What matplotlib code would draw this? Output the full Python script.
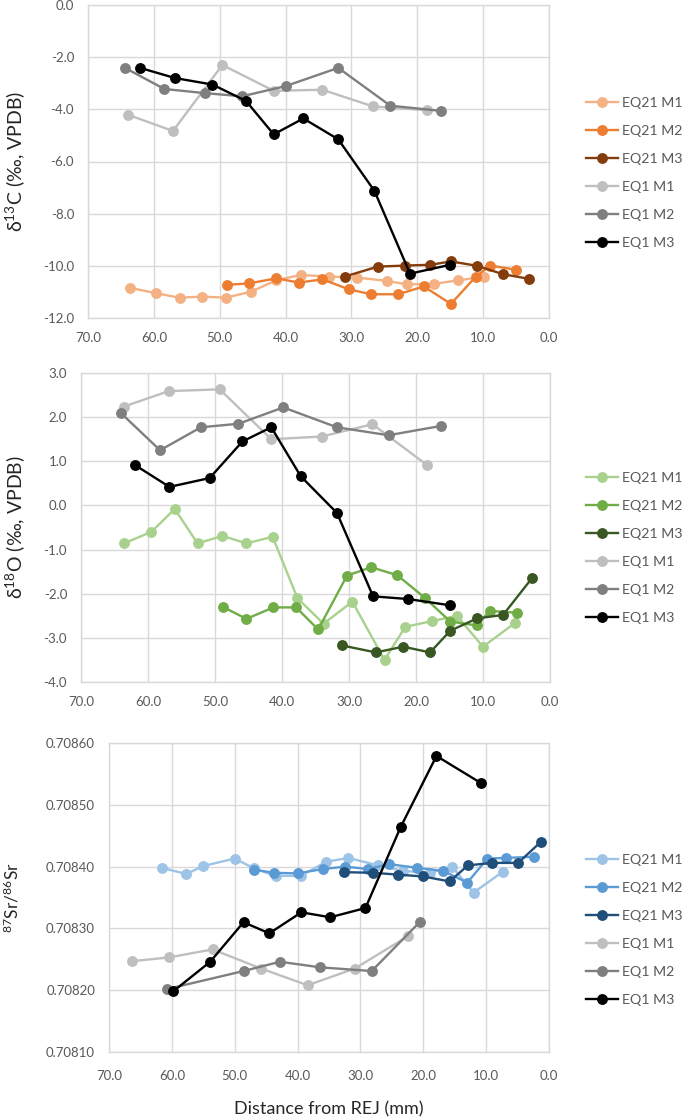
import numpy as np
import matplotlib
matplotlib.use('Agg')
import matplotlib.pyplot as plt
from matplotlib.ticker import MultipleLocator, FormatStrFormatter

plt.rcParams['font.family'] = ['Lato', 'DejaVu Sans']
plt.rcParams['mathtext.fontset'] = 'custom'
plt.rcParams['mathtext.rm'] = 'Lato'
plt.rcParams['mathtext.it'] = 'Lato:italic'

# series names
names = ['EQ21 M1', 'EQ21 M2', 'EQ21 M3', 'EQ1 M1', 'EQ1 M2', 'EQ1 M3']

# ---- d13C ----
c_eq21m1_x = [63.6, 59.7, 56.1, 52.7, 49.1, 45.3, 41.4, 37.7, 33.4, 29.1, 24.6, 21.5, 17.5, 13.8, 9.9]
c_eq21m1_y = [-10.84, -11.05, -11.22, -11.18, -11.22, -11.00, -10.55, -10.35, -10.41, -10.45, -10.58, -10.71, -10.69, -10.56, -10.41]
c_eq21m2_x = [48.9, 45.5, 41.4, 38.0, 34.4, 30.4, 27.0, 22.9, 19.0, 14.9, 11.1, 8.9, 5.0]
c_eq21m2_y = [-10.73, -10.67, -10.48, -10.64, -10.52, -10.90, -11.09, -11.09, -10.79, -11.46, -10.41, -9.99, -10.15]
c_eq21m3_x = [31.0, 26.0, 21.9, 18.0, 14.9, 10.9, 7.0, 3.0]
c_eq21m3_y = [-10.41, -10.03, -9.99, -9.96, -9.83, -10.00, -10.32, -10.50]
c_eq1m1_x = [63.9, 57.1, 49.6, 41.8, 34.4, 26.7, 18.6]
c_eq1m1_y = [-4.21, -4.83, -2.30, -3.29, -3.25, -3.89, -4.03]
c_eq1m2_x = [64.4, 58.4, 52.2, 46.6, 40.0, 32.0, 24.1, 16.4]
c_eq1m2_y = [-2.41, -3.22, -3.38, -3.50, -3.11, -2.41, -3.86, -4.06]
c_eq1m3_x = [62.1, 56.8, 51.1, 46.0, 41.8, 37.3, 32.0, 26.5, 21.1, 15.0]
c_eq1m3_y = [-2.41, -2.80, -3.05, -3.68, -4.96, -4.35, -5.15, -7.13, -10.30, -9.96]

# ---- d18O ----
o_eq21m1_x = [63.6, 59.5, 56.0, 52.6, 48.9, 45.3, 41.4, 37.7, 33.8, 29.5, 24.7, 21.6, 17.6, 13.9, 10.0, 5.2]
o_eq21m1_y = [-0.86, -0.60, -0.08, -0.86, -0.69, -0.86, -0.71, -2.10, -2.68, -2.18, -3.50, -2.75, -2.62, -2.50, -3.20, -2.66]
o_eq21m2_x = [48.8, 45.3, 41.3, 37.9, 34.6, 30.3, 26.7, 22.8, 18.7, 14.9, 10.9, 9.0, 5.0]
o_eq21m2_y = [-2.30, -2.57, -2.31, -2.31, -2.81, -1.59, -1.40, -1.58, -2.09, -2.63, -2.72, -2.39, -2.43]
o_eq21m3_x = [31.1, 26.0, 21.9, 17.9, 14.9, 10.9, 7.0, 2.7]
o_eq21m3_y = [-3.17, -3.33, -3.20, -3.33, -2.84, -2.56, -2.48, -1.65]
o_eq1m1_x = [63.6, 56.9, 49.3, 41.6, 34.1, 26.5, 18.4]
o_eq1m1_y = [2.24, 2.59, 2.63, 1.50, 1.56, 1.84, 0.92]
o_eq1m2_x = [64.1, 58.2, 52.1, 46.5, 39.8, 31.8, 24.1, 16.3]
o_eq1m2_y = [2.10, 1.25, 1.77, 1.85, 2.22, 1.77, 1.59, 1.80]
o_eq1m3_x = [62.0, 56.8, 50.8, 45.9, 41.6, 37.2, 31.8, 26.4, 21.2, 15.0]
o_eq1m3_y = [0.92, 0.42, 0.62, 1.45, 1.77, 0.66, -0.17, -2.06, -2.12, -2.26]

# ---- 87Sr/86Sr ----
s_eq21m1_x = [61.6, 57.7, 55.0, 50.0, 46.9, 43.5, 39.5, 35.4, 31.9, 27.2, 23.2, 19.0, 15.4, 12.0, 7.3]
s_eq21m1_y = [0.708398, 0.708388, 0.708401, 0.708413, 0.708397, 0.708385, 0.708385, 0.708408, 0.708414, 0.708402, 0.708393, 0.708390, 0.708400, 0.708358, 0.708392]
s_eq21m2_x = [46.9, 43.8, 40.0, 36.0, 32.4, 28.8, 25.4, 21.0, 16.8, 13.0, 9.8, 6.9, 2.4]
s_eq21m2_y = [0.708395, 0.708390, 0.708389, 0.708396, 0.708400, 0.708396, 0.708404, 0.708398, 0.708393, 0.708374, 0.708413, 0.708414, 0.708416]
s_eq21m3_x = [32.6, 28.0, 24.0, 20.0, 15.8, 12.9, 9.0, 4.9, 1.3]
s_eq21m3_y = [0.708391, 0.708390, 0.708387, 0.708384, 0.708376, 0.708402, 0.708406, 0.708406, 0.708440]
s_eq1m1_x = [66.3, 60.5, 53.5, 45.8, 38.4, 30.9, 22.5]
s_eq1m1_y = [0.708247, 0.708253, 0.708266, 0.708235, 0.708208, 0.708235, 0.708287]
s_eq1m2_x = [60.7, 48.6, 42.8, 36.4, 28.2, 20.5]
s_eq1m2_y = [0.708202, 0.708231, 0.708246, 0.708237, 0.708231, 0.708311]
s_eq1m3_x = [59.8, 53.9, 48.6, 44.5, 39.4, 34.8, 29.2, 23.6, 17.9, 10.8]
s_eq1m3_y = [0.708198, 0.708246, 0.708310, 0.708292, 0.708326, 0.708318, 0.708333, 0.708464, 0.708579, 0.708535]

orange = ['#F4B183', '#ED7D31', '#843C0C']
green = ['#A9D18E', '#70AD47', '#385723']
blue = ['#9DC3E6', '#5B9BD5', '#1F4E79']
grays = ['#BFBFBF', '#7F7F7F', '#000000']

W, H = 684, 1120
fig = plt.figure(figsize=(W / 100, H / 100), dpi=100)

def box(l, r, t, b):
    return [l / W, 1 - b / H, (r - l) / W, (b - t) / H]

ax1 = fig.add_axes(box(88, 549, 5, 318))
ax2 = fig.add_axes(box(81, 550, 373, 682))
ax3 = fig.add_axes(box(109, 549, 743, 1052))

panels = [
    (ax1, [(c_eq21m1_x, c_eq21m1_y), (c_eq21m2_x, c_eq21m2_y), (c_eq21m3_x, c_eq21m3_y),
           (c_eq1m1_x, c_eq1m1_y), (c_eq1m2_x, c_eq1m2_y), (c_eq1m3_x, c_eq1m3_y)], orange),
    (ax2, [(o_eq21m1_x, o_eq21m1_y), (o_eq21m2_x, o_eq21m2_y), (o_eq21m3_x, o_eq21m3_y),
           (o_eq1m1_x, o_eq1m1_y), (o_eq1m2_x, o_eq1m2_y), (o_eq1m3_x, o_eq1m3_y)], green),
    (ax3, [(s_eq21m1_x, s_eq21m1_y), (s_eq21m2_x, s_eq21m2_y), (s_eq21m3_x, s_eq21m3_y),
           (s_eq1m1_x, s_eq1m1_y), (s_eq1m2_x, s_eq1m2_y), (s_eq1m3_x, s_eq1m3_y)], blue),
]

legend_y = [173, 548, 930]

for k, (ax, series, cols) in enumerate(panels):
    colors = cols + grays
    handles = []
    for i, (x, y) in enumerate(series):
        h, = ax.plot(x, y, '-o', color=colors[i], lw=1.7, ms=6.8, label=names[i], zorder=3 + (i >= 3))
        handles.append(h)
    ax.set_xlim(70, 0)
    ax.xaxis.set_major_locator(MultipleLocator(10))
    ax.xaxis.set_major_formatter(FormatStrFormatter('%.1f'))
    ax.grid(True, color='#D9D9D9', lw=1)
    ax.set_axisbelow(True)
    for s in ax.spines.values():
        s.set_color('#D9D9D9')
        s.set_linewidth(1)
    ax.tick_params(length=0, labelsize=9.5, labelcolor='#595959', pad=10)
    fig.legend(handles, names, loc='center left', bbox_to_anchor=(580 / W, 1 - legend_y[k] / H),
               frameon=False, fontsize=10.2, labelcolor='#595959', handlelength=2.3,
               labelspacing=1.12, handletextpad=0.3, borderaxespad=0)

ax1.set_ylim(-12, 0)
ax1.yaxis.set_major_locator(MultipleLocator(2))
ax1.yaxis.set_major_formatter(FormatStrFormatter('%.1f'))
ax2.set_ylim(-4, 3)
ax2.yaxis.set_major_locator(MultipleLocator(1))
ax2.yaxis.set_major_formatter(FormatStrFormatter('%.1f'))
ax3.set_ylim(0.7081, 0.7086)
ax3.yaxis.set_major_locator(MultipleLocator(0.0001))
ax3.yaxis.set_major_formatter(FormatStrFormatter('%.5f'))
ax3.tick_params(axis='x', pad=13)

ax1.set_ylabel('δ$^{13}$C (‰, VPDB)', fontsize=14, color='#262626')
ax1.yaxis.set_label_coords((27 - 88) / 461, 0.5)
ax2.set_ylabel('δ$^{18}$O (‰, VPDB)', fontsize=14, color='#262626')
ax2.yaxis.set_label_coords((27 - 81) / 469, 0.5)
ax3.set_ylabel('$^{87}$Sr/$^{86}$Sr', fontsize=12.5, color='#262626')
ax3.yaxis.set_label_coords((22 - 109) / 440, 0.5)
ax3.set_xlabel('Distance from REJ (mm)', fontsize=13, color='#262626')
ax3.xaxis.set_label_coords(0.5, -(1101 - 1052) / 309)

fig.savefig('out.png', dpi=100)
